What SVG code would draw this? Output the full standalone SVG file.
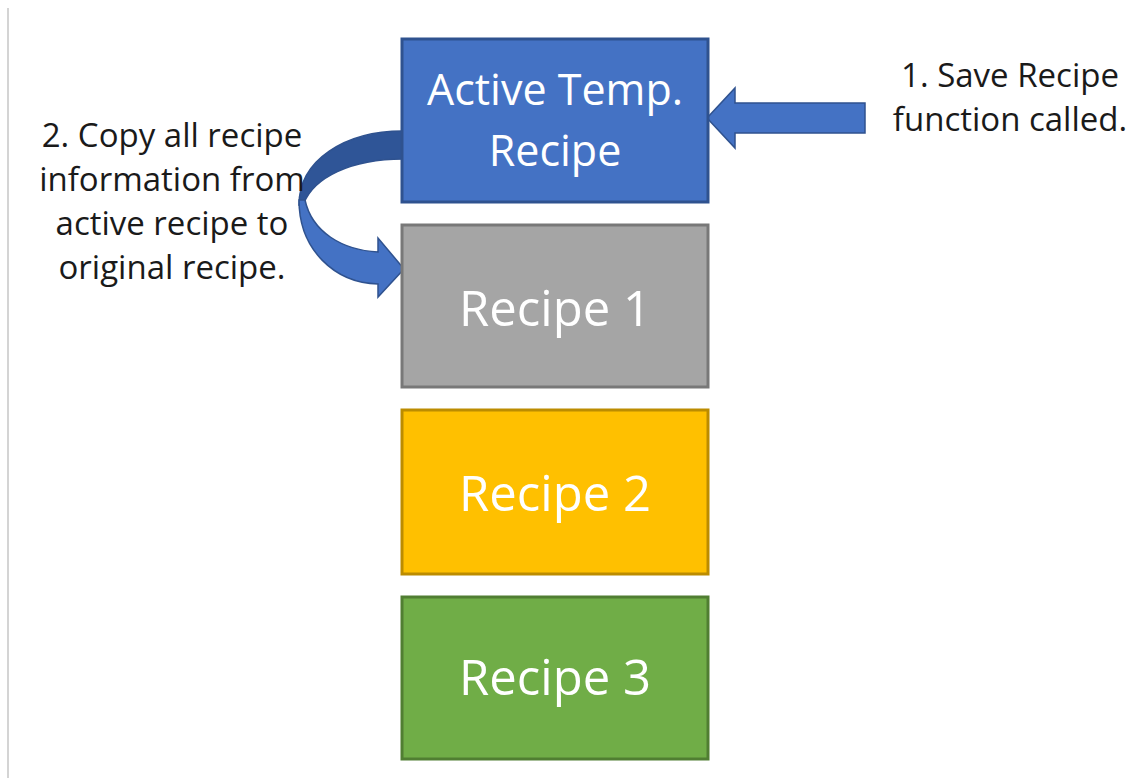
<svg xmlns="http://www.w3.org/2000/svg" width="1129" height="778" viewBox="0 0 1129 778">
<style>
.box{stroke-width:3}
.bt{font-family:"Open Sans","Liberation Sans",sans-serif;fill:#ffffff;text-anchor:middle}
.lbl{font-family:"Open Sans","Liberation Sans",sans-serif;font-size:33px;fill:#1a1a1a;text-anchor:middle}
.arr{fill:#4472C4;stroke:#2F528F;stroke-width:1.5}
</style>
<rect width="1129" height="778" fill="#ffffff"/>
<line x1="8" y1="8" x2="8" y2="778" stroke="#d4d4d4" stroke-width="2"/>
<g id="connectors">
<path class="arr" d="M865,103 L735,103 L735,88 L707,118 L735,148 L735,133 L865,133 Z"/>
<path d="M403,131 C345,131 299,160 299,205 L304,203 C314,178 350,159 403,159 Z" fill="#2F5597" stroke="#2F528F" stroke-width="1.5"/>
<path class="arr" d="M299,200 C299,250 335,283 378,284 L378,297 L404,269 L378,238 L378,252 C342,250 312,232 305,200 Z"/>
</g>
<g id="active">
<rect class="box" x="402" y="39" width="306" height="163" fill="#4472C4" stroke="#2F528F"/>
<text class="bt" x="555" y="105" font-size="43">Active Temp.</text>
<text class="bt" x="555" y="166" font-size="43">Recipe</text>
</g>
<g id="recipe1">
<rect class="box" x="402" y="225" width="306" height="162" fill="#A5A5A5" stroke="#787878"/>
<text class="bt" x="555" y="326" font-size="49">Recipe 1</text>
</g>
<g id="recipe2">
<rect class="box" x="402" y="410" width="306" height="164" fill="#FFC000" stroke="#BC8C00"/>
<text class="bt" x="555" y="511" font-size="49">Recipe 2</text>
</g>
<g id="recipe3">
<rect class="box" x="402" y="597" width="306" height="162" fill="#70AD47" stroke="#507E32"/>
<text class="bt" x="555" y="695" font-size="49">Recipe 3</text>
</g>
<g id="label1">
<text class="lbl" x="1010" y="87">1. Save Recipe</text>
<text class="lbl" x="1010" y="131">function called.</text>
</g>
<g id="label2">
<text class="lbl" x="172" y="147">2. Copy all recipe</text>
<text class="lbl" x="172" y="191">information from</text>
<text class="lbl" x="172" y="235">active recipe to</text>
<text class="lbl" x="172" y="279">original recipe.</text>
</g>
</svg>
